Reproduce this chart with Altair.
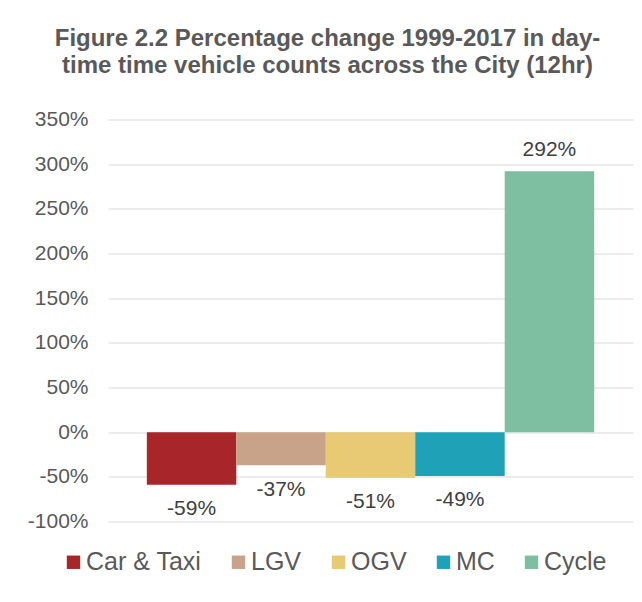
import altair as alt
import pandas as pd

categories = ["Car & Taxi", "LGV", "OGV", "MC", "Cycle"]
changes = [-59, -37, -51, -49, 292]
colors = ["#A8262A", "#C8A38A", "#E8C974", "#1FA2B7", "#7DBFA0"]
y_ticks = [-100, -50, 0, 50, 100, 150, 200, 250, 300, 350]

df = pd.DataFrame({"category": categories, "change": changes})
df["label"] = df["change"].astype(str) + "%"

FONT = "Liberation Sans"

x_enc = alt.X("category:N", sort=categories, axis=None,
              scale=alt.Scale(paddingInner=0, paddingOuter=0.434))
y_enc = alt.Y("change:Q", title=None,
              scale=alt.Scale(domain=[-100, 350], nice=False),
              axis=alt.Axis(values=y_ticks, labelExpr="datum.value + '%'",
                            domain=False, ticks=False, grid=True,
                            gridColor="#d9d9d9", gridWidth=1.2,
                            labelFontSize=21, labelColor="#595959",
                            labelFont=FONT, labelPadding=20))

bars = alt.Chart(df).mark_bar().encode(
    x=x_enc,
    y=y_enc,
    color=alt.Color("category:N", sort=categories,
                    scale=alt.Scale(domain=categories, range=colors),
                    legend=alt.Legend(title=None, orient="none", direction="horizontal",
                                      legendX=-47, legendY=430,
                                      symbolType="square", symbolSize=180,
                                      symbolStrokeWidth=0,
                                      labelFontSize=25, labelColor="#595959",
                                      labelFont=FONT, labelOffset=0,
                                      columnPadding=24)),
)

pos_labels = alt.Chart(df).transform_filter("datum.change >= 0").mark_text(
    baseline="middle", dy=-21, fontSize=21, color="#404040", font=FONT
).encode(x=x_enc, y=alt.Y("change:Q"), text="label:N")

neg_labels = alt.Chart(df).transform_filter("datum.change < 0").mark_text(
    baseline="middle", dy=24.5, fontSize=21, color="#404040", font=FONT
).encode(x=x_enc, y=alt.Y("change:Q"), text="label:N")

chart = alt.layer(bars, pos_labels, neg_labels).properties(
    width=525,
    height=402,
    autosize=alt.AutoSizeParams(type="none"),
    padding={"left": 100, "top": 111.5, "right": 1, "bottom": 70},
    title=alt.Title(
        ["Figure 2.2 Percentage change 1999-2017 in day-",
         "time time vehicle counts across the City (12hr)"],
        anchor="middle", dx=-43, offset=31, fontSize=24, fontWeight="bold",
        color="#595959", font=FONT, lineHeight=27),
).configure_view(stroke=None)

chart.save("out.html", embed_options={"renderer": "svg", "actions": False})
